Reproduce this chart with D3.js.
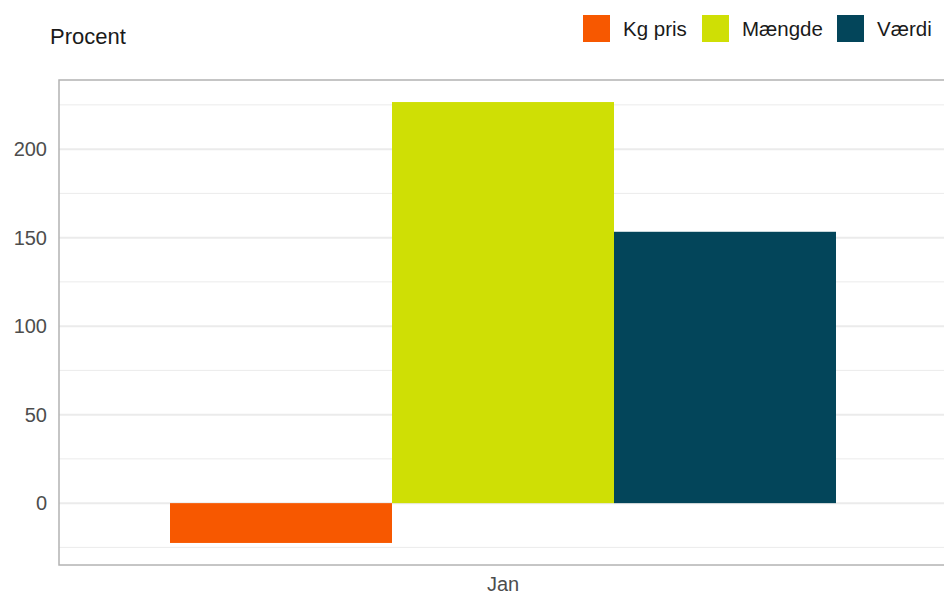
<!DOCTYPE html>
<html><head><meta charset="utf-8">
<script src="https://cdn.jsdelivr.net/npm/d3@7"></script>
<style>body{margin:0;background:#fff;}svg{display:block;font-family:"Liberation Sans",Arial,sans-serif;}</style>
</head><body>
<svg id="c" width="944" height="597"></svg>
<script>
const categories = ["Jan"];
const seriesNames = ["Kg pris", "Mængde", "Værdi"];
const seriesColors = ["#F75800", "#CFDF05", "#03455A"];
const values = [-22.5, 226.6, 153.3];
const yTicks = [0, 50, 100, 150, 200];
const yMinorTicks = [-25, 25, 75, 125, 175, 225];

(function () {
const svg = d3.select("#c");
const pLeft = 59, pRight = 947, pTop = 80, pBottom = 565;
const lo = Math.min(0, d3.min(values)), hi = d3.max(values);
const pad = (hi - lo) * 0.05;
const y = d3.scaleLinear().domain([lo - pad, hi + pad]).range([pBottom, pTop]);
const x = d3.scaleBand().domain(categories).range([pLeft, pRight]).padding(0);
// ggplot style: one category, bar group width 0.9 over continuous range [0.4,1.6]
const xc = d3.scaleLinear().domain([0.4, 1.6]).range([pLeft, pRight]);
const xs = d3.scaleBand().domain(seriesNames).range([xc(1 - 0.45), xc(1 + 0.45)]);

// grid
svg.append("g").selectAll("line").data(yMinorTicks).join("line")
  .attr("x1", pLeft).attr("x2", pRight).attr("y1", d => y(d)).attr("y2", d => y(d))
  .attr("stroke", "#ebebeb").attr("stroke-width", 1);
svg.append("g").selectAll("line").data(yTicks).join("line")
  .attr("x1", pLeft).attr("x2", pRight).attr("y1", d => y(d)).attr("y2", d => y(d))
  .attr("stroke", "#ebebeb").attr("stroke-width", 2);

// bars
svg.append("g").selectAll("rect").data(seriesNames).join("rect")
  .attr("x", d => xs(d)).attr("width", xs.bandwidth())
  .attr("y", (d, i) => y(Math.max(0, values[i])))
  .attr("height", (d, i) => Math.abs(y(values[i]) - y(0)))
  .attr("fill", (d, i) => seriesColors[i]);

// panel border
svg.append("rect").attr("x", pLeft).attr("y", pTop).attr("width", pRight - pLeft).attr("height", pBottom - pTop)
  .attr("fill", "none").attr("stroke", "#b3b3b3").attr("stroke-width", 1.5);

// y axis labels
const yAxis = d3.axisLeft(y).tickValues(yTicks).tickSize(0).tickPadding(12);
const ya = svg.append("g").attr("transform", `translate(${pLeft},0)`).call(yAxis);
ya.select(".domain").remove();
ya.selectAll("text").attr("font-size", 20).attr("fill", "#4d4d4d").attr("font-family", "Liberation Sans, Arial, sans-serif");

// x axis label
const xAxis = d3.axisBottom(x).tickSize(0).tickPadding(12);
const xa = svg.append("g").attr("transform", `translate(0,${pBottom})`).call(xAxis);
xa.select(".domain").remove();
xa.selectAll("text").attr("font-size", 20).attr("fill", "#4d4d4d").attr("font-family", "Liberation Sans, Arial, sans-serif");

// title
svg.append("text").attr("x", 50).attr("y", 44).attr("font-size", 22).attr("fill", "#1a1a1a").text("Procent");

// legend
const legX = [583, 702, 837];
const lg = svg.append("g").selectAll("g").data(seriesNames).join("g")
  .attr("transform", (d, i) => `translate(${legX[i]},15)`);
lg.append("rect").attr("width", 27).attr("height", 27).attr("fill", (d, i) => seriesColors[i]);
lg.append("text").attr("x", 40).attr("y", 21).attr("font-size", 20.5).attr("fill", "#1a1a1a").text(d => d);
})();
</script>
</body></html>
